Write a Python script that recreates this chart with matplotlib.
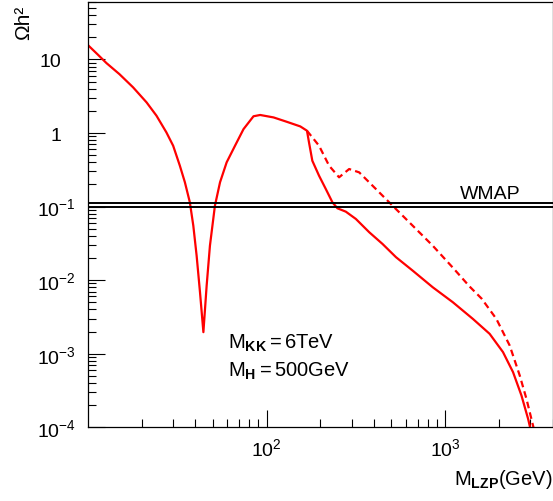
"""
LZP relic density vs LZP mass, log-log, ROOT-like styling.
Solid: standard result; dashed: variant branch above ~170 GeV.
Horizontal double line: WMAP band.
"""

import matplotlib

matplotlib.use("Agg")
import matplotlib.pyplot as plt
from matplotlib.ticker import LogLocator, NullFormatter
from matplotlib.transforms import ScaledTranslation

# solid curve: M_LZP (GeV) -> Omega h^2
SOLID_MASS = [10, 11.3, 12.7, 15.0, 17.9, 21.3, 24.2, 27.5, 30.0, 32.7,
              34.9, 37.2, 38.9, 40.6, 42.4, 44.3, 46.2, 48.2, 51.4, 54.9,
              59.8, 66.6, 74.3, 84.5, 92.1, 109.5, 130.0, 154.5, 168.4, 172.8,
              180.4, 196.7, 214.6, 233.7, 249.3, 277.8, 316.2, 375.6, 446.1,
              530.5, 657.7, 851.7, 1103, 1429, 1774, 2107, 2398, 2673, 2912,
              3002]
SOLID_OMEGA = [15.7, 11.8, 8.93, 6.33, 4.18, 2.61, 1.72, 1.02, 0.672, 0.360,
               0.214, 0.1144, 0.055, 0.0215, 0.00685, 0.00196, 0.00842, 0.0294,
               0.1028, 0.214, 0.400, 0.672, 1.13, 1.69, 1.76, 1.63, 1.42, 1.23,
               1.075, 0.748, 0.42, 0.263, 0.1734, 0.1144, 0.0948, 0.0853,
               0.0679, 0.0448, 0.0310, 0.0205, 0.01346, 0.0080, 0.00501,
               0.00297, 0.00186, 0.00105, 0.000561, 0.000270, 0.000130,
               0.0000946]

# dashed branch, splits off the solid curve near 170 GeV
DASHED_MASS = [168.4, 196.7, 223.9, 254.7, 290.0, 330.0, 409.3, 507.6, 657.7,
               851.7, 1103, 1369, 1600, 1934, 2297, 2615, 2851, 3104, 3133]
DASHED_OMEGA = [1.075, 0.672, 0.360, 0.250, 0.324, 0.292, 0.1734, 0.1028,
                0.055, 0.0294, 0.0148, 0.0082, 0.0056, 0.00297, 0.00129,
                0.000504, 0.000243, 0.000105, 0.0000946]

# WMAP band edges
WMAP_BAND = [0.098, 0.111]

X_TICKS = [100, 1000]
X_TICK_LABELS = [r"$10^{2}$", r"$10^{3}$"]
Y_TICKS = [1e-4, 1e-3, 1e-2, 1e-1, 1, 10]
Y_TICK_LABELS = [r"$10^{-4}$", r"$10^{-3}$", r"$10^{-2}$", r"$10^{-1}$",
                 "1", "10"]

X_RANGE = (10, 4000)
Y_RANGE = (1e-4, 60)

RED = "#ff0000"


def set_font():
    """Helvetica-like text everywhere, mathtext included."""
    plt.rcParams["font.family"] = ["Liberation Sans", "DejaVu Sans"]
    plt.rcParams["mathtext.fontset"] = "custom"
    plt.rcParams["mathtext.rm"] = "Liberation Sans"
    plt.rcParams["mathtext.it"] = "Liberation Sans:italic"
    plt.rcParams["mathtext.bf"] = "Liberation Sans:bold"
    plt.rcParams["mathtext.sf"] = "Liberation Sans"
    plt.rcParams["font.size"] = 14


def main():
    set_font()

    fig = plt.figure(figsize=(5.53, 5.02), dpi=100)
    ax = fig.add_axes([0.159, 0.147, 0.8405, 0.8465])

    ax.plot(SOLID_MASS, SOLID_OMEGA, color=RED, linewidth=1.6)
    ax.plot(DASHED_MASS, DASHED_OMEGA, color=RED, linewidth=1.6,
            dashes=(3.0, 1.9))

    for level in WMAP_BAND:
        ax.axhline(level, color="black", linewidth=1.4)

    ax.set_xscale("log")
    ax.set_yscale("log")
    ax.set_xlim(*X_RANGE)
    ax.set_ylim(*Y_RANGE)

    ax.set_xticks(X_TICKS, X_TICK_LABELS)
    ax.set_yticks(Y_TICKS, Y_TICK_LABELS)
    ax.xaxis.set_minor_locator(LogLocator(base=10, subs=range(2, 10), numticks=20))
    ax.yaxis.set_minor_locator(LogLocator(base=10, subs=range(2, 10), numticks=20))
    ax.xaxis.set_minor_formatter(NullFormatter())
    ax.yaxis.set_minor_formatter(NullFormatter())

    ax.tick_params(which="both", direction="in", top=False, right=False,
                   width=0.8, labelsize=14)
    ax.tick_params(which="major", length=12, pad=7)
    ax.tick_params(axis="y", which="major", pad=8.5)
    ax.tick_params(which="minor", length=5.8)
    for spine in ax.spines.values():
        spine.set_linewidth(0.9)

    # ROOT puts the plain "1" and "10" labels further left than the 10^-n ones
    shift = ScaledTranslation(-0.15, 0, fig.dpi_scale_trans)
    for label in ax.get_yticklabels():
        if "^" not in label.get_text():
            label.set_transform(label.get_transform() + shift)

    ax.set_xlabel(r"$\mathregular{M_{\mathbf{LZP}}(GeV)}$", fontsize=14.5,
                  loc="right")
    ax.xaxis.set_label_coords(1.0, -0.094)

    # y title: rotated, in the top-left corner, plain unicode text
    ax.set_ylabel("\u03a9h\u00b2", fontsize=15, rotation=90,
                  ha="center", va="center")
    ax.yaxis.set_label_coords(-0.138, 0.955)

    ax.text(0.8005, 0.539, "WMAP", transform=ax.transAxes, fontsize=14,
            va="baseline")
    ax.text(0.301, 0.186, r"$\mathregular{M_{\mathbf{KK}}{=}6TeV}$",
            transform=ax.transAxes, fontsize=14.5, va="baseline")
    ax.text(0.301, 0.121, r"$\mathregular{M_{\mathbf{H}}{=}500GeV}$",
            transform=ax.transAxes, fontsize=14.5, va="baseline")

    fig.savefig("out.png", dpi=100)
    plt.close(fig)


if __name__ == "__main__":
    main()
